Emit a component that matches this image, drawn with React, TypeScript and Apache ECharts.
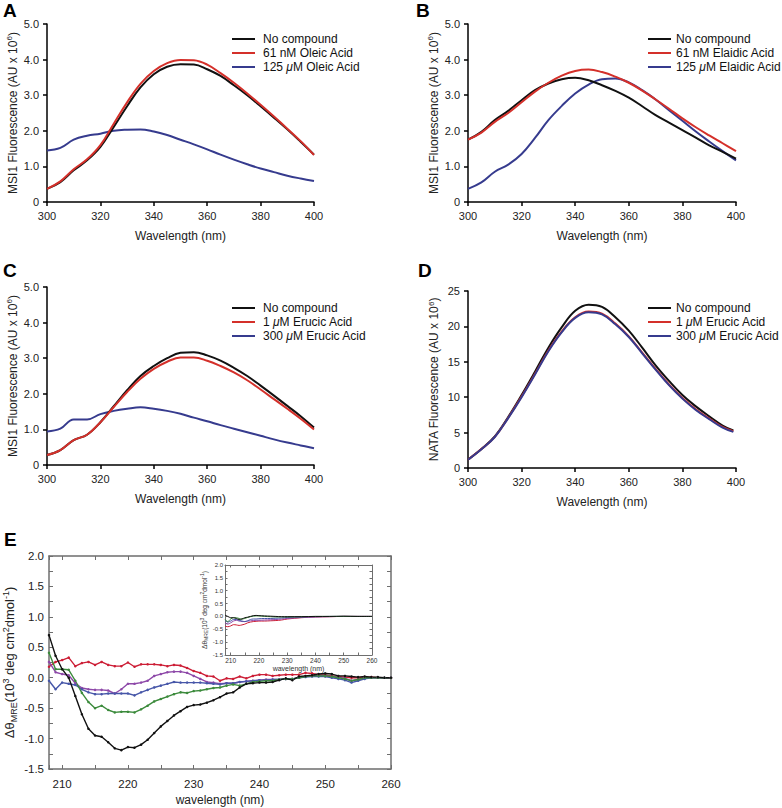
import React, { useEffect, useRef } from "react";
import * as echarts from "echarts";

// ---------- Panels A-D : fluorescence spectra ----------
const specWl = [300, 305, 310, 315, 320, 325, 330, 335, 340, 345, 350, 355, 360, 365, 370, 375, 380, 385, 390, 395, 400];
const specWlD = [300, 305, 310, 315, 320, 325, 330, 335, 340, 345, 350, 355, 360, 365, 370, 375, 380, 385, 390, 395, 399];

const aNoCompound = [0.37, 0.56, 0.89, 1.17, 1.55, 2.11, 2.69, 3.22, 3.59, 3.8, 3.87, 3.86, 3.73, 3.54, 3.28, 3.0, 2.69, 2.37, 2.04, 1.69, 1.33];
const aLow = [0.37, 0.58, 0.92, 1.2, 1.6, 2.2, 2.8, 3.32, 3.68, 3.9, 3.99, 3.98, 3.86, 3.62, 3.35, 3.05, 2.73, 2.4, 2.06, 1.71, 1.32];
const aHigh = [1.45, 1.52, 1.75, 1.86, 1.92, 2.0, 2.03, 2.04, 1.98, 1.88, 1.75, 1.62, 1.48, 1.33, 1.19, 1.06, 0.94, 0.84, 0.74, 0.66, 0.59];

const bNoCompound = [1.75, 1.97, 2.3, 2.56, 2.86, 3.14, 3.33, 3.45, 3.49, 3.42, 3.28, 3.12, 2.93, 2.69, 2.44, 2.23, 2.02, 1.81, 1.59, 1.41, 1.22];
const bLow = [1.75, 1.95, 2.25, 2.5, 2.8, 3.1, 3.35, 3.55, 3.68, 3.72, 3.65, 3.52, 3.35, 3.13, 2.88, 2.62, 2.35, 2.1, 1.87, 1.65, 1.43];
const bHigh = [0.37, 0.55, 0.85, 1.05, 1.35, 1.8, 2.3, 2.7, 3.05, 3.3, 3.45, 3.47, 3.36, 3.14, 2.88, 2.58, 2.28, 1.98, 1.7, 1.43, 1.17];

const cNoCompound = [0.28, 0.42, 0.7, 0.85, 1.2, 1.65, 2.1, 2.5, 2.78, 3.0, 3.15, 3.17, 3.08, 2.93, 2.73, 2.5, 2.23, 1.95, 1.66, 1.37, 1.05];
const cLow = [0.28, 0.42, 0.7, 0.85, 1.2, 1.63, 2.05, 2.42, 2.7, 2.9, 3.02, 3.02, 2.93, 2.78, 2.6, 2.38, 2.12, 1.85, 1.58, 1.3, 1.0];
const cHigh = [0.94, 1.02, 1.28, 1.28, 1.43, 1.52, 1.58, 1.62, 1.58, 1.52, 1.44, 1.33, 1.23, 1.12, 1.02, 0.92, 0.82, 0.72, 0.63, 0.55, 0.47];

const dNoCompound = [1.17, 2.67, 4.46, 7.2, 10.3, 13.6, 17.0, 19.9, 22.2, 23.07, 22.75, 21.3, 19.4, 17.0, 14.5, 12.3, 10.3, 8.7, 7.3, 6.0, 5.3];
const dLow = [1.17, 2.67, 4.4, 7.1, 10.1, 13.3, 16.6, 19.3, 21.3, 22.1, 21.8, 20.4, 18.6, 16.3, 14.0, 11.8, 9.9, 8.3, 7.0, 5.8, 5.2];
const dHigh = [1.17, 2.65, 4.38, 7.05, 10.0, 13.2, 16.5, 19.2, 21.2, 22.0, 21.7, 20.3, 18.5, 16.2, 13.9, 11.7, 9.8, 8.2, 6.9, 5.7, 5.1];

const legendA = ["No compound", "61 nM Oleic Acid", "125 μM Oleic Acid"];
const legendB = ["No compound", "61 nM Elaidic Acid", "125 μM Elaidic Acid"];
const legendCD = ["No compound", "1 μM Erucic Acid", "300 μM Erucic Acid"];

// ---------- Panel E : CD difference spectra ----------
const cdWl = [208, 209, 210, 211, 212, 213, 214, 215, 216, 217, 218, 219, 220, 221, 222, 223, 224, 225, 226, 227, 228, 229, 230, 231, 232, 233, 234, 235, 236, 237, 238, 239, 240, 241, 242, 243, 244, 245, 246, 247, 248, 249, 250, 251, 252, 253, 254, 255, 256, 257, 258, 259, 260];
const cdBlack = [0.7, 0.36, 0.14, 0.0, -0.3, -0.6, -0.84, -0.95, -0.97, -1.06, -1.16, -1.19, -1.14, -1.15, -1.1, -1.02, -0.91, -0.8, -0.71, -0.62, -0.55, -0.48, -0.45, -0.44, -0.41, -0.37, -0.32, -0.26, -0.24, -0.16, -0.1, -0.09, -0.08, -0.08, -0.07, -0.04, -0.01, -0.04, 0.02, 0.03, 0.04, 0.06, 0.07, 0.06, 0.03, 0.03, 0.02, 0.01, 0.02, 0.01, 0.01, 0.0, 0.0];
const cdRed = [0.18, 0.26, 0.29, 0.33, 0.19, 0.24, 0.26, 0.21, 0.26, 0.21, 0.19, 0.19, 0.25, 0.18, 0.22, 0.22, 0.22, 0.21, 0.19, 0.21, 0.2, 0.16, 0.11, 0.08, 0.03, 0.02, -0.05, -0.01, -0.02, 0.02, -0.01, 0.03, 0.05, 0.05, 0.03, 0.04, 0.05, 0.05, 0.05, 0.08, 0.07, 0.05, 0.04, 0.03, 0.02, 0.01, 0.0, 0.0, 0.01, 0.01, 0.0, 0.0, 0.0];
const cdPurple = [0.26, 0.09, 0.06, 0.04, -0.09, -0.17, -0.19, -0.2, -0.2, -0.21, -0.26, -0.19, -0.1, -0.1, -0.08, -0.05, 0.03, 0.06, 0.09, 0.1, 0.1, 0.08, 0.03, -0.02, -0.07, -0.08, -0.1, -0.09, -0.09, -0.07, -0.06, -0.05, -0.04, -0.03, -0.03, -0.03, -0.02, -0.02, 0.0, 0.02, 0.03, 0.04, 0.03, 0.02, 0.01, -0.01, -0.05, -0.03, 0.0, 0.0, 0.0, 0.0, 0.0];
const cdBlue = [-0.05, -0.19, -0.08, -0.1, -0.12, -0.19, -0.24, -0.27, -0.27, -0.26, -0.26, -0.26, -0.26, -0.29, -0.24, -0.2, -0.16, -0.13, -0.1, -0.07, -0.08, -0.08, -0.08, -0.08, -0.09, -0.1, -0.11, -0.09, -0.09, -0.07, -0.06, -0.05, -0.04, -0.04, -0.03, -0.03, -0.02, -0.02, 0.0, 0.01, 0.02, 0.02, 0.02, 0.0, -0.02, -0.04, -0.08, -0.05, -0.02, 0.0, 0.0, 0.0, 0.0];
const cdGreen = [0.41, 0.14, 0.14, 0.13, -0.05, -0.25, -0.4, -0.5, -0.46, -0.53, -0.57, -0.56, -0.56, -0.57, -0.52, -0.46, -0.39, -0.35, -0.31, -0.27, -0.24, -0.25, -0.22, -0.21, -0.19, -0.17, -0.16, -0.13, -0.11, -0.13, -0.1, -0.07, -0.06, -0.05, -0.05, -0.03, -0.02, -0.02, 0.0, 0.02, 0.03, 0.03, 0.03, 0.02, 0.0, -0.02, -0.05, -0.03, 0.0, 0.0, 0.0, 0.0, 0.0];

// inset
const insetWl = [208, 209, 210, 211, 212, 213, 214, 215, 216, 217, 218, 219, 220, 222, 224, 226, 228, 230, 235, 240, 245, 250, 255, 260];
const inBlack = [0.05, 0.0, -0.05, -0.05, -0.08, -0.12, -0.1, -0.05, -0.03, 0.0, 0.03, 0.04, 0.03, 0.02, 0.01, 0.0, -0.01, -0.01, -0.01, 0.0, 0.0, 0.01, 0.0, 0.0];
const inGreen = [-0.12, -0.2, -0.1, -0.05, -0.05, -0.08, -0.1, -0.08, -0.04, -0.01, 0.01, 0.02, 0.02, 0.0, -0.01, -0.02, -0.02, -0.02, -0.01, 0.0, 0.0, 0.0, 0.0, 0.0];
const inBlue = [-0.15, -0.22, -0.18, -0.12, -0.12, -0.15, -0.18, -0.2, -0.17, -0.12, -0.1, -0.1, -0.09, -0.08, -0.08, -0.07, -0.06, -0.04, -0.02, -0.01, 0.0, 0.0, 0.0, 0.0];
const inPurple = [-0.25, -0.3, -0.25, -0.18, -0.15, -0.18, -0.2, -0.2, -0.18, -0.17, -0.16, -0.15, -0.15, -0.14, -0.13, -0.12, -0.1, -0.08, -0.04, -0.02, -0.01, 0.0, 0.0, 0.0];
const inRed = [-0.38, -0.4, -0.37, -0.32, -0.33, -0.35, -0.33, -0.3, -0.25, -0.22, -0.2, -0.19, -0.18, -0.18, -0.17, -0.16, -0.14, -0.1, -0.05, -0.02, -0.01, 0.0, 0.0, 0.0];

const FONT = '"Liberation Sans", Arial, Helvetica, sans-serif';
const BLACK = "#111111";
const RED = "#d4302a";
const NAVY = "#363b8e";
const E_RED = "#cc1d35";
const E_PURPLE = "#8d48a8";
const E_BLUE = "#4656a8";
const E_GREEN = "#3b8a3b";
const FRAME = "#6e6e6e";

const pairs = (xs: number[], ys: number[]) => xs.map((x, i) => [x, ys[i]]);

function specXAxis(gridIndex: number) {
  return {
    gridIndex,
    type: "value",
    min: 300,
    max: 400,
    interval: 20,
    axisLine: { show: true, onZero: false, lineStyle: { color: "#000", width: 1.5 } },
    axisTick: { show: true, length: 4, lineStyle: { color: "#000", width: 1.5 } },
    splitLine: { show: false },
    axisLabel: { fontSize: 11, color: "#222", margin: 8 },
    name: "Wavelength (nm)",
    nameLocation: "middle",
    nameGap: 28,
    nameTextStyle: { fontSize: 12, color: "#222" },
  };
}

function specYAxis(gridIndex: number, max: number, interval: number, name: string, fmt: (v: number) => string) {
  return {
    gridIndex,
    type: "value",
    min: 0,
    max,
    interval,
    axisLine: { show: true, onZero: false, lineStyle: { color: "#000", width: 1.5 } },
    axisTick: { show: true, length: 4, lineStyle: { color: "#000", width: 1.5 } },
    splitLine: { show: false },
    axisLabel: { fontSize: 11, color: "#222", margin: 8, formatter: fmt },
    name,
    nameLocation: "middle",
    nameGap: 27,
    nameTextStyle: {
      fontSize: 12,
      color: "#222",
      lineHeight: 14,
      rich: { sup: { fontSize: 8, lineHeight: 8, verticalAlign: "top", color: "#222" } },
    },
  };
}

function specSeries(name: string, xi: number, xs: number[], ys: number[], color: string) {
  return {
    name,
    type: "line",
    xAxisIndex: xi,
    yAxisIndex: xi,
    data: pairs(xs, ys),
    showSymbol: false,
    smooth: 0.4,
    lineStyle: { color, width: 2 },
    itemStyle: { color },
    z: 3,
  };
}

function legendAt(data: string[], left: number, top: number, pad: number) {
  return {
    data,
    left,
    top,
    orient: "vertical",
    icon: "rect",
    itemWidth: 23,
    itemHeight: 2,
    itemGap: 0,
    selectedMode: false,
    formatter: (n: string) => n.replace("μ", "{it|μ}"),
    textStyle: {
      fontSize: 12,
      color: "#111",
      lineHeight: 14,
      fontFamily: FONT,
      padding: [0, 0, 0, pad],
      rich: { it: { fontStyle: "italic", fontSize: 12, lineHeight: 14, color: "#111" } },
    },
  };
}

function frameAxisCommon(tickLen: number) {
  return {
    axisLine: { show: true, onZero: false, lineStyle: { color: FRAME, width: 1.5 } },
    axisTick: { show: true, inside: true, length: tickLen, lineStyle: { color: FRAME, width: 1 } },
    minorTick: { show: true, splitNumber: 2, length: tickLen, lineStyle: { color: FRAME, width: 1 } },
    splitLine: { show: false },
    minorSplitLine: { show: false },
  };
}

const cdYName = "Δθ{sub|MRE}(10{sup|3} deg cm{sup|2}dmol{sup|-1})";

export default function App() {
  const ref = useRef<HTMLDivElement>(null);

  useEffect(() => {
    if (!ref.current) return;
    const chart = echarts.init(ref.current, null, { renderer: "svg" });

    const msiFmt = (v: number) => (v === 0 ? "0" : v.toFixed(1));
    const msiName = "MSI1 Fluorescence (AU x 10{sup|6})";

    const cdSeries = (name: string, ys: number[], color: string) => ({
      name,
      type: "line",
      xAxisIndex: 4,
      yAxisIndex: 4,
      data: pairs(cdWl, ys),
      showSymbol: true,
      symbol: "circle",
      symbolSize: 2.5,
      lineStyle: { color, width: 1.4 },
      itemStyle: { color },
      z: 3,
    });
    const inSeries = (name: string, ys: number[], color: string) => ({
      name,
      type: "line",
      xAxisIndex: 6,
      yAxisIndex: 6,
      data: pairs(insetWl, ys),
      showSymbol: false,
      smooth: 0.3,
      lineStyle: { color, width: 1 },
      itemStyle: { color },
      z: 3,
    });

    const option: any = {
      animation: false,
      backgroundColor: "#ffffff",
      textStyle: { fontFamily: FONT },
      grid: [
        { left: 47, top: 24, width: 267, height: 178 },
        { left: 468, top: 24, width: 268, height: 178 },
        { left: 47, top: 287, width: 267, height: 178 },
        { left: 468, top: 291, width: 268, height: 177 },
        { left: 46, top: 556, width: 345, height: 213 },
        { left: 225, top: 565, width: 147, height: 90 },
      ],
      xAxis: [
        specXAxis(0),
        specXAxis(1),
        specXAxis(2),
        specXAxis(3),
        {
          gridIndex: 4,
          type: "value",
          position: "bottom",
          min: 208,
          max: 260,
          minInterval: 10,
          maxInterval: 10,
          ...frameAxisCommon(4),
          axisLabel: { fontSize: 11.5, color: "#222", margin: 9, showMinLabel: false },
          name: "wavelength (nm)",
          nameLocation: "middle",
          nameGap: 25,
          nameTextStyle: { fontSize: 12, color: "#222" },
        },
        {
          gridIndex: 4,
          type: "value",
          position: "top",
          min: 208,
          max: 260,
          minInterval: 10,
          maxInterval: 10,
          ...frameAxisCommon(4),
          axisLabel: { show: false },
        },
        {
          gridIndex: 5,
          type: "value",
          position: "bottom",
          min: 208,
          max: 260,
          minInterval: 10,
          maxInterval: 10,
          ...frameAxisCommon(2.5),
          axisLine: { show: true, onZero: false, lineStyle: { color: FRAME, width: 1 } },
          axisLabel: { fontSize: 6.5, color: "#333", margin: 2, showMinLabel: false },
          name: "wavelength (nm)",
          nameLocation: "middle",
          nameGap: 8,
          nameTextStyle: { fontSize: 7, color: "#333" },
        },
        {
          gridIndex: 5,
          type: "value",
          position: "top",
          min: 208,
          max: 260,
          minInterval: 10,
          maxInterval: 10,
          ...frameAxisCommon(2.5),
          axisLine: { show: true, onZero: false, lineStyle: { color: FRAME, width: 1 } },
          axisLabel: { show: false },
        },
      ],
      yAxis: [
        specYAxis(0, 5, 1, msiName, msiFmt),
        specYAxis(1, 5, 1, msiName, msiFmt),
        specYAxis(2, 5, 1, msiName, msiFmt),
        specYAxis(3, 25, 5, "NATA Fluorescence (AU x 10{sup|6})", (v: number) => String(v)),
        {
          gridIndex: 4,
          type: "value",
          position: "left",
          min: -1.5,
          max: 2,
          interval: 0.5,
          ...frameAxisCommon(4),
          axisLabel: { fontSize: 11.5, color: "#222", margin: 5, formatter: (v: number) => v.toFixed(1) },
          name: cdYName,
          nameLocation: "middle",
          nameGap: 31,
          nameTextStyle: {
            fontSize: 13,
            color: "#222",
            lineHeight: 17,
            rich: {
              sub: { fontSize: 9, lineHeight: 9, verticalAlign: "bottom", color: "#222" },
              sup: { fontSize: 9, lineHeight: 9, verticalAlign: "top", color: "#222" },
            },
          },
        },
        {
          gridIndex: 4,
          type: "value",
          position: "right",
          min: -1.5,
          max: 2,
          interval: 0.5,
          ...frameAxisCommon(4),
          axisLabel: { show: false },
        },
        {
          gridIndex: 5,
          type: "value",
          position: "left",
          min: -1.5,
          max: 2,
          interval: 0.5,
          ...frameAxisCommon(2.5),
          axisLine: { show: true, onZero: false, lineStyle: { color: FRAME, width: 1 } },
          axisLabel: { fontSize: 6, color: "#333", margin: 2, formatter: (v: number) => v.toFixed(1) },
          name: cdYName,
          nameLocation: "middle",
          nameGap: 13,
          nameTextStyle: {
            fontSize: 6.5,
            color: "#333",
            lineHeight: 9,
            rich: {
              sub: { fontSize: 5, lineHeight: 5, verticalAlign: "bottom", color: "#333" },
              sup: { fontSize: 5, lineHeight: 5, verticalAlign: "top", color: "#333" },
            },
          },
        },
        {
          gridIndex: 5,
          type: "value",
          position: "right",
          min: -1.5,
          max: 2,
          interval: 0.5,
          ...frameAxisCommon(2.5),
          axisLine: { show: true, onZero: false, lineStyle: { color: FRAME, width: 1 } },
          axisLabel: { show: false },
        },
      ],
      legend: [
        legendAt(legendA, 227, 27, 3),
        legendAt(legendB, 643, 27, 0),
        legendAt(legendCD, 227, 296, 3),
        legendAt(legendCD, 643, 296, 0),
      ],
      graphic: [
        { type: "text", x: 3, y: 1, style: { text: "A", font: `bold 19px ${FONT}`, fill: "#000", verticalAlign: "top" } },
        { type: "text", x: 416, y: 1, style: { text: "B", font: `bold 19px ${FONT}`, fill: "#000", verticalAlign: "top" } },
        { type: "text", x: 3, y: 261, style: { text: "C", font: `bold 19px ${FONT}`, fill: "#000", verticalAlign: "top" } },
        { type: "text", x: 418, y: 261, style: { text: "D", font: `bold 19px ${FONT}`, fill: "#000", verticalAlign: "top" } },
        { type: "text", x: 4, y: 530, style: { text: "E", font: `bold 19px ${FONT}`, fill: "#000", verticalAlign: "top" } },
      ],
      series: [
        specSeries(legendA[2], 0, specWl, aHigh, NAVY),
        specSeries(legendA[0], 0, specWl, aNoCompound, BLACK),
        specSeries(legendA[1], 0, specWl, aLow, RED),

        specSeries(legendB[2], 1, specWl, bHigh, NAVY),
        specSeries(legendB[0], 1, specWl, bNoCompound, BLACK),
        specSeries(legendB[1], 1, specWl, bLow, RED),

        specSeries(legendCD[2], 2, specWl, cHigh, NAVY),
        specSeries(legendCD[0], 2, specWl, cNoCompound, BLACK),
        specSeries(legendCD[1], 2, specWl, cLow, RED),

        specSeries(legendCD[0], 3, specWlD, dNoCompound, BLACK),
        specSeries(legendCD[1], 3, specWlD, dLow, RED),
        specSeries(legendCD[2], 3, specWlD, dHigh, NAVY),

        cdSeries("CD red", cdRed, E_RED),
        cdSeries("CD purple", cdPurple, E_PURPLE),
        cdSeries("CD blue", cdBlue, E_BLUE),
        cdSeries("CD green", cdGreen, E_GREEN),
        cdSeries("CD black", cdBlack, BLACK),

        inSeries("inset red", inRed, E_RED),
        inSeries("inset purple", inPurple, E_PURPLE),
        inSeries("inset blue", inBlue, E_BLUE),
        inSeries("inset green", inGreen, E_GREEN),
        inSeries("inset black", inBlack, BLACK),
      ],
    };

    chart.setOption(option);
    return () => chart.dispose();
  }, []);

  return (
    <div
      ref={ref}
      style={{ position: "fixed", left: 0, top: 0, width: 782, height: 808, background: "#fff" }}
    />
  );
}
